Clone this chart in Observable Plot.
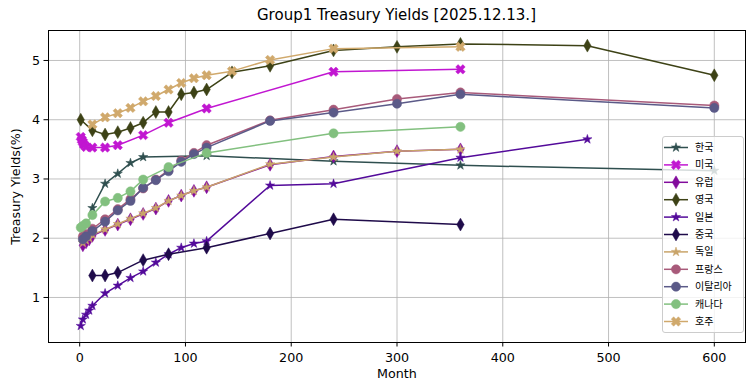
<!DOCTYPE html>
<html><head><meta charset="utf-8">
<script src="https://cdn.jsdelivr.net/npm/d3@7"></script>
<script src="https://cdn.jsdelivr.net/npm/@observablehq/plot@0.6"></script>
<style>
body{margin:0;background:#fff;font-family:"DejaVu Sans",sans-serif;}
#wrap{position:relative;width:755px;height:391px;overflow:hidden;}
#title{position:absolute;left:48px;width:697px;top:6px;text-align:center;font-size:15px;line-height:18px;color:#000;}
#chart{position:absolute;left:0;top:25px;}
#legend{position:absolute;left:0;top:0;}
</style>
</head><body>
<div id="wrap"><div id="title">Group1 Treasury Yields [2025.12.13.]</div><div id="chart"></div><svg id="legend" width="755" height="391"></svg></div>
<script>
// ---- data ----
const xTicks = [0,100,200,300,400,500,600];
const yTicks = [1,2,3,4,5];
const names = ["한국","미국","유럽","영국","일본","중국","독일","프랑스","이탈리아","캐나다","호주"];

const krMonths = [12,24,36,48,60,120,240,360,600];
const krYields = [2.51,2.92,3.09,3.27,3.37,3.39,3.30,3.23,3.14];
const usMonths = [1,2,3,4,6,12,24,36,60,84,120,240,360];
const usYields = [3.71,3.66,3.62,3.58,3.54,3.53,3.53,3.57,3.74,3.95,4.19,4.81,4.85];
const euMonths = [3,6,9,12,24,36,48,60,72,84,96,108,120,180,240,300,360];
const euYields = [1.88,1.93,1.98,2.04,2.14,2.23,2.32,2.41,2.50,2.63,2.72,2.80,2.86,3.24,3.38,3.47,3.50];
const ukMonths = [1,12,24,36,48,60,72,84,96,108,120,144,180,240,300,360,480,600];
const ukYields = [4.00,3.82,3.75,3.79,3.86,3.95,4.13,4.13,4.43,4.46,4.51,4.80,4.91,5.17,5.23,5.28,5.25,4.75];
const jpMonths = [1,3,6,9,12,24,36,48,60,72,84,96,108,120,180,240,360,480];
const jpYields = [0.52,0.63,0.71,0.78,0.86,1.07,1.20,1.33,1.44,1.59,1.73,1.84,1.91,1.95,2.89,2.92,3.36,3.67];
const cnMonths = [12,24,36,60,84,120,180,240,360];
const cnYields = [1.37,1.37,1.42,1.63,1.73,1.84,2.08,2.32,2.23];
const deMonths = [3,6,9,12,24,36,48,60,72,84,96,108,120,180,240,300,360];
const deYields = [1.92,1.96,2.00,2.06,2.15,2.24,2.33,2.42,2.51,2.63,2.72,2.80,2.86,3.25,3.37,3.47,3.50];
const frMonths = [3,6,12,24,36,48,60,72,84,96,108,120,180,240,300,360,600];
const frYields = [2.03,2.07,2.16,2.32,2.49,2.66,2.84,2.99,3.15,3.31,3.44,3.57,3.99,4.17,4.35,4.46,4.24];
const itMonths = [3,6,12,24,36,48,60,72,84,96,108,120,180,240,300,360,600];
const itYields = [1.98,2.03,2.12,2.28,2.47,2.63,2.85,2.98,3.13,3.29,3.42,3.53,3.98,4.12,4.27,4.43,4.20];
const caMonths = [1,3,6,12,24,36,48,60,84,120,240,360];
const caYields = [2.18,2.21,2.25,2.39,2.62,2.68,2.79,2.99,3.20,3.44,3.77,3.88];
const auMonths = [12,24,36,48,60,72,84,96,108,120,144,180,240,360];
const auYields = [3.92,4.04,4.11,4.20,4.31,4.40,4.51,4.62,4.70,4.75,4.82,5.01,5.20,5.23];

// ---- styles ----
const colors = ["#2f4f4f","#c116d1","#820c9c","#3d4216","#530a9a","#1f0b4a","#c9a46a","#a85a7a","#5b5a88","#82c07f","#d0a96c"];
const xSym = {draw(ctx, size){
  const s = Math.sqrt(size), a = 0.66*s, w = 0.22*s;
  const pts = [[w,a],[w,w],[a,w],[a,-w],[w,-w],[w,-a],[-w,-a],[-w,-w],[-a,-w],[-a,w],[-w,w],[-w,a]];
  const c = Math.SQRT1_2;
  pts.forEach(([x,y],i)=>{const X=(x-y)*c, Y=(x+y)*c; i?ctx.lineTo(X,Y):ctx.moveTo(X,Y);});
  ctx.closePath();
}};
const symbols = [d3.symbolStar, xSym, d3.symbolDiamond, d3.symbolDiamond, d3.symbolStar, d3.symbolDiamond, d3.symbolStar, d3.symbolCircle, d3.symbolCircle, d3.symbolCircle, xSym];
const radii = [2.9, 4.3, 3.9, 3.9, 2.9, 3.9, 2.9, 4.6, 4.6, 4.6, 4.3];

const monthsList = [krMonths,usMonths,euMonths,ukMonths,jpMonths,cnMonths,deMonths,frMonths,itMonths,caMonths,auMonths];
const yieldsList = [krYields,usYields,euYields,ukYields,jpYields,cnYields,deYields,frYields,itYields,caYields,auYields];

const marks = [
  Plot.gridX(xTicks, {stroke:"#b0b0b0", strokeOpacity:1, strokeWidth:0.8}),
  Plot.gridY(yTicks, {stroke:"#b0b0b0", strokeOpacity:1, strokeWidth:0.8})
];
names.forEach((n,k)=>{
  const data = monthsList[k].map((m,i)=>({month:m, yld:yieldsList[k][i]}));
  marks.push(Plot.line(data,{x:"month",y:"yld",stroke:colors[k],strokeWidth:1.5}));
  marks.push(Plot.dot(data,{x:"month",y:"yld",fill:colors[k],stroke:colors[k],strokeWidth:0.5,symbol:symbols[k],r:radii[k]}));
});
marks.push(Plot.frame({stroke:"#000", strokeWidth:1}));
marks.push(Plot.axisX(xTicks,{tickSize:4.5,tickPadding:6,tickFormat:d=>String(d),label:"Month",labelAnchor:"center",labelArrow:"none",labelOffset:35}));
marks.push(Plot.axisY(yTicks,{tickSize:4.5,tickPadding:4,tickFormat:d=>String(d),label:"Treasury Yields(%)",labelAnchor:"center",labelArrow:"none",labelOffset:38}));

const chart = Plot.plot({
  width:755, height:366,
  marginTop:5, marginLeft:48, marginRight:10, marginBottom:49,
  x:{domain:[-29.5,629.5]},
  y:{domain:[0.24,5.506]},
  style:{fontFamily:"DejaVu Sans", fontSize:"12.7px", background:"transparent", color:"#000"},
  marks
});
document.getElementById("chart").appendChild(chart);

// ---- legend ----
const lg = d3.select("#legend");
const bx=662, by=136, bw=81, bh=196, rowH=17.4;
lg.append("rect").attr("x",bx+0.5).attr("y",by+0.5).attr("width",bw).attr("height",bh).attr("rx",2.5)
  .attr("fill","#fff").attr("fill-opacity",0.8).attr("stroke","#cccccc");
names.forEach((n,k)=>{
  const cy = by + 11.5 + k*rowH;
  lg.append("line").attr("x1",bx+2).attr("x2",bx+26).attr("y1",cy).attr("y2",cy).attr("stroke",colors[k]).attr("stroke-width",1.5);
  lg.append("path").attr("transform",`translate(${bx+14},${cy})`)
    .attr("d", d3.symbol(symbols[k], radii[k]*radii[k]*Math.PI)()).attr("fill",colors[k]).attr("stroke",colors[k]).attr("stroke-width",0.5);
  lg.append("text").attr("x",bx+33).attr("y",cy).attr("dy","0.35em").attr("font-size","10px")
    .attr("font-family","'Noto Sans CJK KR'").attr("fill","#000").text(n);
});
</script>
</body></html>
